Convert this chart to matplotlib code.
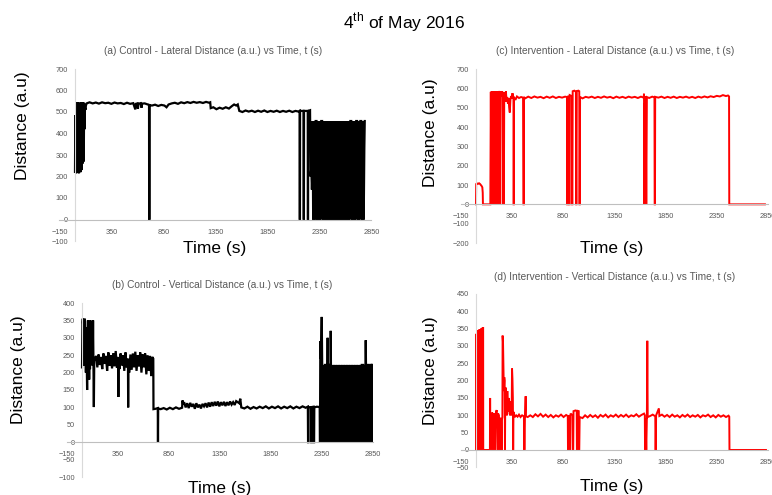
import numpy as np
import matplotlib
matplotlib.use('Agg')
import matplotlib.pyplot as plt

plt.rcParams['font.family'] = ['Liberation Sans', 'DejaVu Sans']

# (time s, distance a.u.)
ctrl_lat = [
    (0, 222), (3, 486), (6, 230), (10, 215), (14, 225), (18, 218), (22, 545), (25, 230), (28, 300),
    (31, 545), (34, 225), (38, 215), (42, 240), (45, 540), (48, 280), (52, 220), (56, 545), (60, 250),
    (64, 230), (68, 545), (72, 260), (76, 300), (80, 545), (84, 270), (88, 540), (92, 420), (96, 520),
    (100, 510), (105, 530), (112, 540), (140, 545), (170, 540), (200, 544), (230, 539), (260, 545),
    (290, 541), (320, 543), (350, 538), (380, 544), (410, 540), (440, 542), (470, 537), (500, 543),
    (530, 538), (560, 541), (580, 512), (585, 538), (600, 540), (605, 515), (610, 538), (630, 541),
    (640, 520), (645, 539), (670, 540), (700, 535), (712, 533), (713, 0), (716, 0), (717, 532),
    (740, 530), (770, 534), (800, 528), (830, 533), (860, 530), (880, 522), (900, 535), (930, 540),
    (960, 543), (990, 538), (1020, 545), (1050, 541), (1080, 546), (1110, 542), (1140, 547),
    (1170, 543), (1200, 546), (1230, 542), (1260, 547), (1290, 543), (1300, 545), (1305, 518),
    (1330, 522), (1360, 513), (1390, 520), (1420, 515), (1450, 522), (1480, 516), (1510, 528),
    (1530, 535), (1550, 530), (1565, 535), (1580, 505), (1610, 500), (1640, 507), (1670, 502),
    (1700, 506), (1730, 500), (1760, 506), (1790, 501), (1820, 507), (1850, 500), (1880, 505),
    (1910, 501), (1940, 506), (1970, 500), (2000, 505), (2030, 501), (2060, 506), (2090, 500),
    (2120, 505), (2150, 502), (2160, 505), (2161, 0), (2163, 0), (2164, 505), (2198, 505), (2199, 0),
    (2201, 0), (2202, 505), (2238, 505), (2239, 0), (2241, 0), (2242, 505), (2260, 508), (2265, 200),
    (2272, 240), (2278, 139), (2282, 200), (2285, 458), (2290, 0), (2298, 458), (2306, 0), (2314, 458),
    (2322, 458), (2328, 0), (2336, 458), (2344, 0), (2352, 458), (2360, 0), (2368, 458), (2376, 458),
    (2384, 0), (2392, 458), (2400, 0), (2408, 458), (2416, 0), (2424, 458), (2432, 0), (2440, 458),
    (2448, 0), (2456, 458), (2464, 0), (2472, 458), (2480, 0), (2488, 458), (2496, 0), (2504, 458),
    (2512, 0), (2520, 458), (2528, 0), (2536, 458), (2544, 0), (2552, 458), (2560, 0), (2568, 458),
    (2576, 0), (2584, 458), (2592, 0), (2600, 458), (2608, 0), (2616, 458), (2624, 0), (2632, 458),
    (2640, 0), (2648, 458), (2656, 458), (2664, 0), (2672, 458), (2680, 0), (2688, 458), (2696, 0),
    (2704, 458), (2712, 458), (2720, 0), (2728, 458), (2736, 0), (2744, 458), (2752, 458), (2760, 0),
    (2768, 458), (2776, 0), (2782, 330), (2786, 458),
]

int_lat = [
    (0, 0), (2, 105), (10, 108), (20, 106), (30, 109), (40, 105), (48, 100), (55, 95), (62, 88),
    (66, 60), (68, 0), (140, 0), (145, 582), (150, 0), (155, 585), (160, 0), (165, 583), (170, 0),
    (175, 585), (180, 0), (185, 580), (190, 0), (195, 585), (200, 0), (205, 583), (210, 575), (215, 0),
    (220, 585), (226, 580), (230, 0), (236, 585), (244, 570), (250, 560), (256, 585), (262, 0),
    (266, 575), (272, 0), (276, 580), (282, 560), (288, 530), (292, 585), (298, 540), (305, 555),
    (312, 520), (318, 550), (324, 500), (330, 475), (336, 540), (342, 560), (350, 548), (356, 575),
    (362, 560), (366, 555), (367, 0), (370, 0), (371, 555), (385, 540), (400, 558), (420, 550),
    (440, 555), (460, 552), (464, 0), (467, 0), (468, 555), (480, 548), (510, 557), (540, 550),
    (570, 558), (600, 552), (630, 556), (660, 549), (690, 557), (720, 551), (750, 558), (780, 550),
    (810, 556), (840, 552), (870, 557), (888, 555), (890, 0), (893, 0), (895, 560), (908, 555),
    (910, 0), (913, 0), (915, 565), (935, 560), (938, 0), (941, 0), (944, 585), (960, 588), (975, 582),
    (978, 0), (981, 0), (984, 586), (1000, 588), (1008, 585), (1010, 0), (1013, 0), (1016, 555),
    (1040, 548), (1070, 556), (1100, 552), (1130, 557), (1160, 550), (1190, 556), (1220, 551),
    (1250, 558), (1280, 552), (1310, 556), (1340, 549), (1370, 557), (1400, 551), (1430, 556),
    (1460, 550), (1490, 557), (1520, 552), (1550, 556), (1580, 550), (1610, 557), (1636, 552),
    (1640, 572), (1642, 0), (1648, 520), (1652, 0), (1656, 560), (1662, 0), (1668, 555), (1690, 550),
    (1720, 557), (1742, 553), (1744, 0), (1747, 0), (1749, 556), (1780, 552), (1810, 557), (1840, 550),
    (1870, 556), (1900, 551), (1930, 557), (1960, 550), (1990, 556), (2020, 552), (2050, 557),
    (2080, 551), (2110, 556), (2140, 550), (2170, 557), (2200, 552), (2230, 558), (2260, 553),
    (2290, 559), (2320, 555), (2350, 561), (2380, 558), (2410, 565), (2440, 560), (2460, 563),
    (2470, 558), (2472, 0), (2820, 0),
]

ctrl_vert = [
    (0, 215), (4, 345), (8, 355), (12, 330), (15, 220), (18, 350), (22, 300), (26, 355), (30, 260),
    (34, 320), (38, 200), (42, 330), (46, 240), (50, 150), (54, 300), (58, 350), (62, 205), (66, 340),
    (70, 180), (74, 345), (78, 210), (82, 350), (86, 230), (90, 340), (95, 260), (100, 330), (104, 220),
    (108, 350), (112, 240), (116, 101), (120, 245), (126, 235), (138, 248), (150, 215), (162, 252),
    (174, 222), (186, 245), (198, 210), (210, 255), (222, 225), (234, 248), (246, 205), (258, 258),
    (270, 220), (282, 250), (294, 212), (306, 256), (318, 218), (330, 262), (342, 214), (354, 245),
    (356, 130), (358, 240), (366, 210), (378, 255), (390, 220), (402, 250), (414, 205), (426, 258),
    (438, 215), (450, 240), (452, 100), (454, 235), (462, 200), (474, 252), (486, 208), (498, 255),
    (510, 215), (522, 260), (534, 205), (546, 250), (558, 218), (570, 258), (582, 200), (594, 252),
    (606, 215), (618, 255), (630, 195), (642, 250), (654, 205), (666, 248), (678, 190), (688, 245),
    (698, 240), (700, 95), (720, 96), (742, 98), (744, 0), (746, 97), (770, 95), (800, 98), (830, 94),
    (860, 99), (890, 95), (920, 100), (950, 96), (980, 99), (985, 120), (990, 108), (1000, 115),
    (1015, 100), (1030, 112), (1045, 98), (1060, 113), (1075, 102), (1090, 110), (1105, 96),
    (1120, 112), (1135, 100), (1150, 108), (1165, 97), (1180, 110), (1195, 103), (1210, 112),
    (1225, 100), (1240, 114), (1255, 102), (1270, 115), (1285, 104), (1300, 116), (1315, 105),
    (1330, 117), (1345, 103), (1360, 115), (1375, 106), (1390, 116), (1405, 104), (1420, 115),
    (1435, 106), (1450, 117), (1465, 108), (1480, 115), (1495, 107), (1510, 118), (1540, 112),
    (1550, 125), (1560, 100), (1590, 97), (1620, 102), (1650, 96), (1680, 101), (1710, 97),
    (1740, 102), (1770, 98), (1800, 103), (1830, 97), (1860, 102), (1890, 98), (1920, 103),
    (1950, 97), (1980, 102), (2010, 98), (2040, 103), (2070, 97), (2100, 102), (2130, 98),
    (2160, 103), (2190, 99), (2212, 102), (2214, 0), (2217, 0), (2219, 101), (2243, 100), (2245, 0),
    (2248, 0), (2250, 101), (2268, 102), (2270, 0), (2273, 0), (2275, 100), (2300, 102), (2328, 101),
    (2331, 0), (2334, 290), (2340, 240), (2348, 360), (2352, 225), (2356, 0), (2364, 222), (2372, 0),
    (2380, 222), (2390, 222), (2396, 0), (2404, 222), (2406, 300), (2408, 222), (2412, 0), (2420, 222),
    (2429, 222), (2434, 0), (2436, 320), (2438, 222), (2444, 0), (2452, 222), (2460, 0), (2468, 222),
    (2476, 0), (2484, 222), (2492, 0), (2500, 222), (2508, 0), (2516, 222), (2524, 0), (2532, 222),
    (2540, 0), (2548, 222), (2556, 0), (2564, 222), (2572, 0), (2580, 222), (2588, 0), (2596, 222),
    (2604, 0), (2612, 222), (2620, 0), (2628, 222), (2636, 0), (2644, 222), (2652, 0), (2660, 222),
    (2668, 0), (2676, 222), (2684, 0), (2692, 222), (2700, 0), (2708, 222), (2716, 0), (2724, 222),
    (2732, 0), (2740, 222), (2752, 222), (2758, 0), (2766, 222), (2774, 0), (2778, 222), (2779, 293),
    (2781, 222), (2788, 0), (2796, 222), (2803, 222), (2808, 0), (2816, 222), (2822, 0), (2826, 222),
    (2832, 222), (2836, 0), (2840, 222),
]

int_vert = [
    (0, 0), (2, 335), (6, 0), (10, 340), (14, 0), (18, 345), (22, 0), (26, 340), (30, 0), (34, 348),
    (38, 0), (42, 346), (46, 0), (50, 350), (54, 0), (58, 352), (62, 0), (66, 352), (70, 352), (71, 0),
    (136, 0), (138, 150), (141, 0), (144, 105), (150, 100), (154, 0), (157, 108), (165, 103), (170, 0),
    (173, 105), (180, 100), (186, 0), (190, 98), (196, 110), (202, 115), (206, 95), (212, 0), (216, 105),
    (224, 100), (228, 0), (232, 0), (236, 90), (244, 92), (250, 0), (254, 88), (258, 95), (260, 330),
    (264, 310), (268, 240), (272, 170), (276, 210), (280, 200), (283, 0), (286, 150), (290, 180),
    (294, 120), (298, 165), (302, 100), (306, 170), (310, 130), (316, 110), (322, 150), (328, 105),
    (335, 100), (342, 140), (348, 100), (352, 235), (356, 205), (360, 150), (363, 0), (366, 110),
    (372, 100), (380, 95), (392, 100), (406, 96), (420, 102), (435, 95), (450, 100), (468, 97),
    (471, 0), (474, 0), (478, 98), (485, 155), (488, 97), (505, 95), (530, 100), (555, 95), (580, 103),
    (605, 97), (630, 104), (655, 96), (680, 102), (705, 95), (730, 101), (755, 94), (780, 100),
    (805, 96), (830, 102), (855, 95), (880, 101), (896, 98), (898, 0), (901, 0), (904, 100), (915, 95),
    (917, 0), (920, 0), (923, 105), (944, 100), (946, 0), (949, 0), (952, 112), (970, 114), (983, 112),
    (985, 0), (988, 0), (991, 113), (1003, 112), (1005, 0), (1008, 0), (1012, 95), (1040, 92),
    (1065, 100), (1090, 94), (1115, 101), (1140, 95), (1165, 100), (1190, 93), (1215, 101), (1240, 96),
    (1265, 102), (1290, 94), (1315, 100), (1340, 96), (1365, 102), (1390, 95), (1415, 101), (1440, 96),
    (1465, 102), (1490, 95), (1515, 100), (1540, 97), (1565, 103), (1590, 96), (1615, 101),
    (1640, 105), (1648, 100), (1650, 0), (1655, 90), (1662, 0), (1668, 95), (1672, 315), (1676, 95),
    (1700, 98), (1725, 102), (1750, 97), (1752, 0), (1755, 0), (1758, 100), (1785, 120), (1790, 98),
    (1815, 102), (1840, 96), (1865, 101), (1890, 95), (1915, 102), (1940, 96), (1965, 100), (1990, 94),
    (2015, 101), (2040, 96), (2065, 102), (2090, 95), (2115, 100), (2140, 96), (2165, 101), (2190, 94),
    (2215, 100), (2240, 97), (2265, 102), (2290, 95), (2315, 100), (2340, 94), (2365, 101), (2390, 96),
    (2415, 100), (2440, 95), (2465, 99), (2472, 96), (2474, 0), (2830, 0),
]

x_ticks = [-150, 350, 850, 1350, 1850, 2350, 2850]
y_ticks_a = [-100, 0, 100, 200, 300, 400, 500, 600, 700]
y_ticks_c = [-200, -100, 0, 100, 200, 300, 400, 500, 600, 700]
y_ticks_b = [-100, -50, 0, 50, 100, 150, 200, 250, 300, 350, 400]
y_ticks_d = [-50, 0, 50, 100, 150, 200, 250, 300, 350, 400, 450]

titles = [
    '(a) Control - Lateral Distance (a.u.) vs Time, t (s)',
    '(c) Intervention - Lateral Distance (a.u.) vs Time, t (s)',
    '(b) Control - Vertical Distance (a.u.) vs Time, t (s)',
    '(d) Intervention - Vertical Distance (a.u.) vs Time, t (s)',
]

W, H = 772, 495


def px_box(left, right, top, bottom):
    return [left / W, 1 - bottom / H, (right - left) / W, (bottom - top) / H]


def setup(ax, yticks):
    ax.set_xlim(-150, 2850)
    ax.set_ylim(yticks[0], yticks[-1])
    ax.set_xticks(x_ticks)
    ax.set_yticks(yticks)
    for s in ['top', 'right']:
        ax.spines[s].set_visible(False)
    ax.spines['left'].set_position(('data', 0))
    ax.spines['bottom'].set_position(('data', 0))
    ax.spines['left'].set_color('#d9d9d9')
    ax.spines['bottom'].set_color('#bfbfbf')
    ax.tick_params(length=0, labelsize=5.3, labelcolor='#595959')
    ax.tick_params(axis='x', pad=6.5)
    ax.tick_params(axis='y', pad=5)
    ax.patch.set_alpha(0)


fig = plt.figure(figsize=(W / 100, H / 100), dpi=100)

panels = [
    (ctrl_lat, y_ticks_a, px_box(59.4, 371.4, 69, 241), 'black', 1.6, (213, 51), (23, 126), (215, 248)),
    (int_lat, y_ticks_c, px_box(460.6, 768, 69, 243), 'red', 1.4, (615, 51), (431, 133), (612, 249)),
    (ctrl_vert, y_ticks_b, px_box(66.7, 373, 303, 477), 'black', 1.6, (222, 285), (19, 370), (220, 488)),
    (int_vert, y_ticks_d, px_box(460.6, 768, 294, 467.3), 'red', 1.4, (615, 277), (430, 371), (612, 487)),
]

for (data, yt, box, col, lw, tpos, ylpos, xlpos), title in zip(panels, titles):
    ax = fig.add_axes(box)
    setup(ax, yt)
    t = [p[0] for p in data]
    y = [p[1] for p in data]
    ax.plot(t, y, color=col, lw=lw, solid_joinstyle='miter')
    fig.text(tpos[0] / W, 1 - tpos[1] / H, title, ha='center', va='center',
             fontsize=7.3, color='#595959')
    fig.text(ylpos[0] / W, 1 - ylpos[1] / H, 'Distance (a.u)', ha='center', va='center',
             rotation=90, fontsize=12.5)
    fig.text(xlpos[0] / W, 1 - xlpos[1] / H, 'Time (s)', ha='center', va='center', fontsize=12.5)

fig.text(404 / W, 1 - 22 / H, r'4$^{\mathregular{th}}$ of May 2016', ha='center', va='center',
         fontsize=12.5)

fig.savefig('out.png', dpi=100)
